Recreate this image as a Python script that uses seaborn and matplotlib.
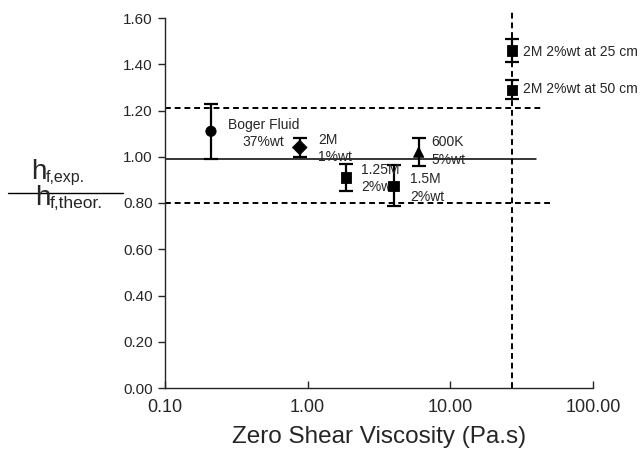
import matplotlib
matplotlib.use("Agg")
import matplotlib.pyplot as plt
import pandas as pd
import seaborn as sns

# ── Data ─────────────────────────────────────────────────────────────────────
fluids    = ["Boger", "2M 1%", "1.25M 2%", "1.5M 2%", "600K 5%", "2M 25cm", "2M 50cm"]
viscosity = [0.21, 0.88, 1.85, 4.0, 6.0, 27.0, 27.0]
h_ratio   = [1.11, 1.04, 0.91, 0.875, 1.02, 1.46, 1.29]
h_err     = [0.12, 0.04, 0.06, 0.09, 0.06, 0.05, 0.04]
markers   = ["o", "D", "s", "s", "^", "s", "s"]
labels    = ["Boger Fluid\n37%wt", "2M\n1%wt", "1.25M\n2%wt", "1.5M\n2%wt",
             "600K\n5%wt", "2M 2%wt at 25 cm", "2M 2%wt at 50 cm"]
label_x   = [0.49, 1.19, 2.37, 5.2, 7.4, 32.5, 32.5]
label_y   = [1.10, 1.035, 0.905, 0.865, 1.025, 1.455, 1.295]
label_ha  = ["center", "left", "left", "left", "left", "left", "left"]

mean_line  = 0.99
band_hi    = 1.21
band_lo    = 0.80
crit_visc  = 27.0

df = pd.DataFrame({"fluid": fluids, "visc": viscosity, "h": h_ratio})

# ── Style ────────────────────────────────────────────────────────────────────
sns.set_style("ticks")
plt.rcParams["font.family"] = ["Liberation Sans", "DejaVu Sans"]

W, H = 643, 453
fig = plt.figure(figsize=(W / 100, H / 100), dpi=100)
ax = fig.add_axes([165 / W, 1 - 388 / H, (593 - 165) / W, (388 - 18) / H])

ax.errorbar(viscosity, h_ratio, yerr=h_err, fmt="none", ecolor="black",
            elinewidth=1.6, capsize=5, capthick=1.6, zorder=3)
sns.scatterplot(data=df, x="visc", y="h", style="fluid",
                markers=dict(zip(fluids, markers)), s=55, color="black",
                edgecolor="black", legend=False, ax=ax, zorder=4)

dash = (0, (3, 2))
ax.plot([0.1, 40], [mean_line, mean_line], color="black", lw=1.1, zorder=2)
ax.plot([0.1, 45], [band_hi, band_hi], color="black", lw=1.4, ls=dash, zorder=2)
ax.plot([0.1, 51], [band_lo, band_lo], color="black", lw=1.4, ls=dash, zorder=2)
ax.plot([crit_visc, crit_visc], [0.0, 1.63], color="black", lw=1.4,
        ls=dash, zorder=2, clip_on=False)

for txt, tx, ty, ha in zip(labels, label_x, label_y, label_ha):
    ax.text(tx, ty, txt, fontsize=10, ha=ha, va="center", linespacing=1.3)

ax.set_xscale("log")
ax.set_xlim(0.1, 100)
ax.set_ylim(0, 1.6)
ax.set_xticks([0.1, 1, 10, 100])
ax.set_xticks([], minor=True)
ax.set_xticklabels(["0.10", "1.00", "10.00", "100.00"])
ax.set_yticks([0.2 * i for i in range(9)])
ax.set_yticklabels([f"{0.2 * i:.2f}" for i in range(9)])
ax.tick_params(axis="x", direction="in", length=5, width=1, labelsize=13, pad=8)
ax.tick_params(axis="y", direction="out", length=5, width=1, labelsize=11, pad=4)
sns.despine(ax=ax)
for sp in ("left", "bottom"):
    ax.spines[sp].set_linewidth(1.0)

ax.set_ylabel("")
ax.set_xlabel("Zero Shear Viscosity (Pa.s)", fontsize=17.5, labelpad=7)

# fraction-style y label: h_f,exp. / h_f,theor.
def px(x, y):
    return x / W, 1 - y / H

fig.text(*px(31, 179), "h", fontsize=20, ha="left", va="baseline")
fig.text(*px(46, 182), "f,exp.", fontsize=11.5, ha="left", va="baseline")
fig.add_artist(plt.Line2D([8 / W, 123 / W], [1 - 193 / H, 1 - 193 / H],
                          color="black", lw=1.0))
fig.text(*px(35, 205), "h", fontsize=20, ha="left", va="baseline")
fig.text(*px(50, 208), "f,theor.", fontsize=12.5, ha="left", va="baseline")

fig.savefig("out.png", dpi=100)
